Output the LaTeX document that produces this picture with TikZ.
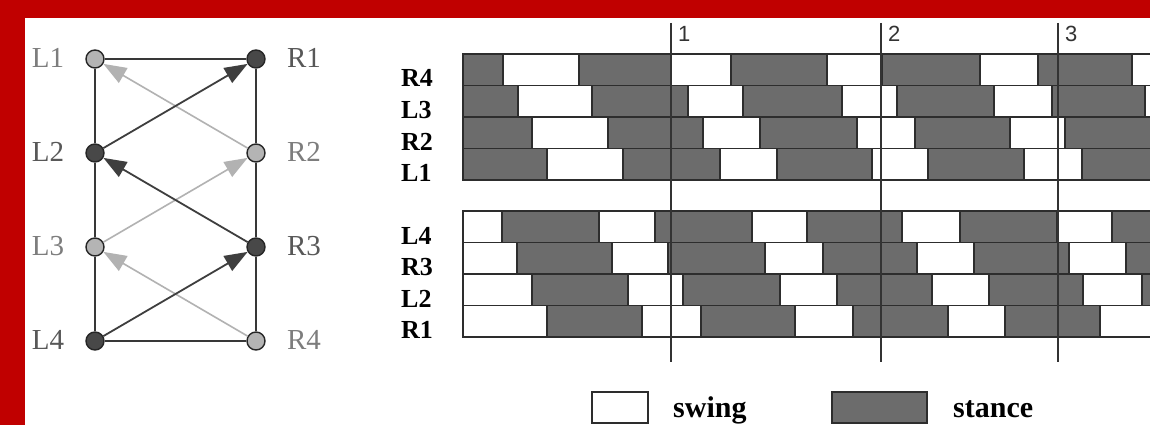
\documentclass[tikz,border=0pt]{standalone}
\usepackage{fontspec}
\setmainfont{Liberation Serif}
\newfontfamily\sansf{Liberation Sans}
\usetikzlibrary{arrows.meta}
\definecolor{brdred}{RGB}{192,0,0}
\definecolor{lightnode}{RGB}{180,180,180}
\definecolor{darknode}{RGB}{72,72,72}
\definecolor{lightarr}{RGB}{178,178,178}
\definecolor{darkarr}{RGB}{62,62,62}
\definecolor{lightlab}{RGB}{125,125,125}
\definecolor{darklab}{RGB}{88,88,88}
\definecolor{stc}{RGB}{108,108,108}
\definecolor{swc}{RGB}{255,255,255}
\definecolor{cellline}{RGB}{45,45,45}
\newcommand\gaitrow[3]{\foreach \a/\b/\c in {#3}{\filldraw[cell, fill=\c] (\a,#1) rectangle (\b,#2);}}
\tikzset{
  leg/.style={circle, draw=black!85, line width=1.4pt, minimum size=18pt, inner sep=0pt},
  legL/.style={leg, fill=lightnode},
  legD/.style={leg, fill=darknode},
  frame/.style={draw=black!78, line width=1.8pt},
  darr/.style={draw=darkarr, line width=1.8pt, -{Triangle[length=23pt,width=17pt]}},
  larr/.style={draw=lightarr, line width=1.6pt, -{Triangle[length=23pt,width=17pt]}},
  glab/.style={font=\fontsize{29}{31}\selectfont, inner sep=0pt},
  rowlab/.style={font=\bfseries\fontsize{26}{28}\selectfont, anchor=base west, inner sep=0pt},
  cell/.style={draw=cellline, line width=1.2pt},
  vline/.style={draw=black!80, line width=1.8pt},
  numlab/.style={font=\sansf\fontsize{22}{24}\selectfont, anchor=base west, inner sep=0pt, text=black!80},
  legtext/.style={font=\bfseries\fontsize{30}{32}\selectfont, anchor=base west, inner sep=0pt}
}
\begin{document}
\begin{tikzpicture}[x=1pt,y=-1pt]
\useasboundingbox (0,0) rectangle (1150,425);
\fill[white] (0,0) rectangle (1150,425);
\fill[brdred] (0,0) rectangle (1150,18);
\fill[brdred] (0,0) rectangle (25,425);

% ---- leg coordination graph ----
\node[legL] (L1) at (95,59) {};
\node[legD] (L2) at (95,153) {};
\node[legL] (L3) at (95,247) {};
\node[legD] (L4) at (95,341) {};
\node[legD] (R1) at (256,59) {};
\node[legL] (R2) at (256,153) {};
\node[legD] (R3) at (256,247) {};
\node[legL] (R4) at (256,341) {};

\draw[frame] (L1) -- (R1);
\draw[frame] (R1) -- (R2);
\draw[frame] (R2) -- (R3);
\draw[frame] (R3) -- (R4);
\draw[frame] (R4) -- (L4);
\draw[frame] (L4) -- (L3);
\draw[frame] (L3) -- (L2);
\draw[frame] (L2) -- (L1);

\draw[larr] (R2) -- (L1);
\draw[larr] (L3) -- (R2);
\draw[larr] (R4) -- (L3);
\draw[darr] (L2) -- (R1);
\draw[darr] (R3) -- (L2);
\draw[darr] (L4) -- (R3);

\node[glab, text=lightlab] (tL1) at (48,58) {L1};
\node[glab, text=darklab]  (tL2) at (48,152) {L2};
\node[glab, text=lightlab] (tL3) at (48,246) {L3};
\node[glab, text=darklab]  (tL4) at (48,340) {L4};
\node[glab, text=darklab]  (tR1) at (304,58) {R1};
\node[glab, text=lightlab] (tR2) at (304,152) {R2};
\node[glab, text=darklab]  (tR3) at (304,246) {R3};
\node[glab, text=lightlab] (tR4) at (304,340) {R4};

% ---- gait diagram ----
\begin{scope}
\clip (0,0) rectangle (1150,425);
\gaitrow{54}{85.5}{463/503/stc,503/579/swc,579/671/stc,671/731/swc,731/827/stc,827/882/swc,882/980/stc,980/1038/swc,1038/1132/stc,1132/1160/swc}
\gaitrow{85.5}{117}{463/518/stc,518/592/swc,592/688/stc,688/743/swc,743/842/stc,842/897/swc,897/994/stc,994/1052/swc,1052/1145/stc,1145/1160/swc}
\gaitrow{117}{148.5}{463/532/stc,532/608/swc,608/703/stc,703/760/swc,760/857/stc,857/915/swc,915/1010/stc,1010/1065/swc,1065/1160/stc}
\gaitrow{148.5}{180}{463/547/stc,547/623/swc,623/720/stc,720/777/swc,777/872/stc,872/928/swc,928/1024/stc,1024/1082/swc,1082/1160/stc}
\gaitrow{211}{242.5}{463/502/swc,502/599/stc,599/655/swc,655/752/stc,752/807/swc,807/902/stc,902/960/swc,960/1057/stc,1057/1112/swc,1112/1160/stc}
\gaitrow{242.5}{274}{463/517/swc,517/612/stc,612/668/swc,668/765/stc,765/823/swc,823/917/stc,917/974/swc,974/1069/stc,1069/1126/swc,1126/1160/stc}
\gaitrow{274}{305.5}{463/532/swc,532/628/stc,628/683/swc,683/780/stc,780/837/swc,837/932/stc,932/989/swc,989/1083/stc,1083/1142/swc,1142/1160/stc}
\gaitrow{305.5}{337}{463/547/swc,547/642/stc,642/701/swc,701/795/stc,795/853/swc,853/948/stc,948/1005/swc,1005/1100/stc,1100/1160/swc}
\end{scope}

\node[rowlab] (gR4) at (401,87) {R4};
\node[rowlab] (gL3) at (401,118.5) {L3};
\node[rowlab] (gR2) at (401,150) {R2};
\node[rowlab] (gL1) at (401,181.5) {L1};
\node[rowlab] (gL4) at (401,244) {L4};
\node[rowlab] (gR3) at (401,275.5) {R3};
\node[rowlab] (gL2) at (401,307) {L2};
\node[rowlab] (gR1) at (401,338.5) {R1};

\draw[vline] (671,23) -- (671,362);
\draw[vline] (881,23) -- (881,362);
\draw[vline] (1058,23) -- (1058,362);
\node[numlab] (n1) at (678,42) {1};
\node[numlab] (n2) at (888,42) {2};
\node[numlab] (n3) at (1065,42) {3};

% ---- legend ----
\draw[cell, fill=swc] (592,392) rectangle (648,423);
\node[legtext] (tsw) at (673,417) {swing};
\draw[cell, fill=stc] (832,392) rectangle (927,423);
\node[legtext] (tst) at (953,417) {stance};
\end{tikzpicture}
\end{document}
